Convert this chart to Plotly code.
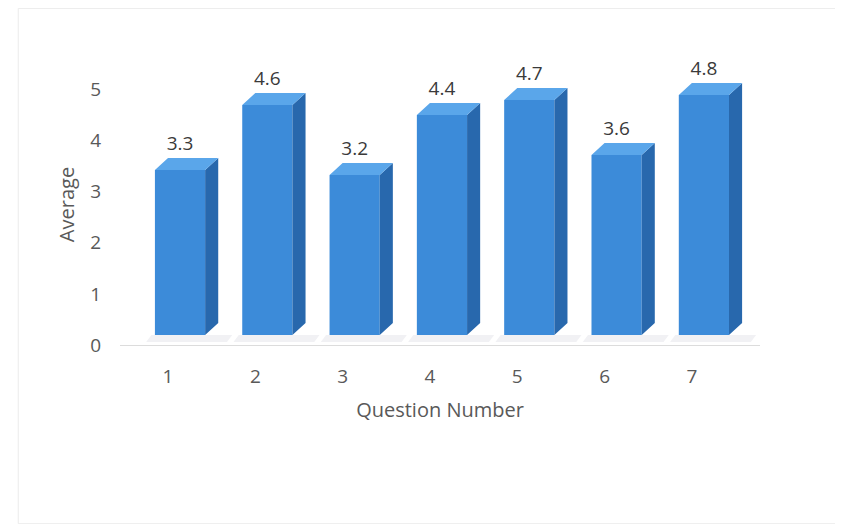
import plotly.graph_objects as go

questions = [1, 2, 3, 4, 5, 6, 7]
averages = [3.3, 4.6, 3.2, 4.4, 4.7, 3.6, 4.8]
value_labels = ["3.3", "4.6", "3.2", "4.4", "4.7", "3.6", "4.8"]

FRONT = "#3c8bd9"
SIDE = "#2868ad"
TOP = "#5aa6ea"
TXT = "#595959"
FONT = "Open Sans, sans-serif"

off = -0.15      # front face left edge relative to category (x units)
w = 0.575        # front face width (x units)
dx = 0.15        # depth shift in x units
dy = 0.24        # depth shift in y units

fig = go.Figure()

# anchor trace for the primary (labelled) y axis
fig.add_trace(go.Scatter(x=questions, y=averages, mode="markers", marker=dict(opacity=0),
                         hoverinfo="skip", showlegend=False))

# floor shadow
sx, sy = [], []
for q in questions:
    x0 = q + off - 0.1
    x1 = q + off + w + dx + 0.1
    sx += [x0, x1, x1 + 0.06, x0 + 0.06, x0, None]
    sy += [-0.14, -0.14, 0.0, 0.0, -0.14, None]
fig.add_trace(go.Scatter(x=sx, y=sy, mode="lines", fill="toself", fillcolor="rgba(200,200,210,0.25)",
                         line=dict(width=0), hoverinfo="skip", yaxis="y2", showlegend=False))

# front faces
fig.add_trace(go.Bar(x=questions, y=averages, offset=off, width=w, marker=dict(color=FRONT, line=dict(width=0)),
                     yaxis="y2", showlegend=False))

# side faces
px, py = [], []
for q, v in zip(questions, averages):
    xr = q + off + w
    px += [xr, xr + dx, xr + dx, xr, xr, None]
    py += [0, dy, v + dy, v, 0, None]
fig.add_trace(go.Scatter(x=px, y=py, mode="lines", fill="toself", fillcolor=SIDE,
                         line=dict(width=0, color=SIDE), hoverinfo="skip", yaxis="y2", showlegend=False))

# top faces
tx, ty = [], []
for q, v in zip(questions, averages):
    xl = q + off
    xr = q + off + w
    tx += [xl, xr, xr + dx, xl + dx, xl, None]
    ty += [v, v, v + dy, v + dy, v, None]
fig.add_trace(go.Scatter(x=tx, y=ty, mode="lines", fill="toself", fillcolor=TOP,
                         line=dict(width=0, color=TOP), hoverinfo="skip", yaxis="y2", showlegend=False))

# value labels
fig.add_trace(go.Scatter(x=[q + off + w / 2 for q in questions], y=[v + 0.5 for v in averages],
                         mode="text", text=value_labels, textposition="middle center", cliponaxis=False,
                         textfont=dict(family=FONT, size=19, color="#3a3a3a"),
                         yaxis="y2", hoverinfo="skip", showlegend=False))

# page is offset by the browser's 8px body margin, so the figure is 8px smaller
fig.update_layout(
    width=835, height=516,
    margin=dict(l=112, r=83, t=56, b=179),
    paper_bgcolor="white", plot_bgcolor="white",
    font=dict(family=FONT, color=TXT),
    xaxis=dict(range=[0.45, 7.78], tickmode="array", tickvals=questions, ticktext=[str(q) for q in questions],
               showgrid=False, zeroline=False, showline=True, linecolor="#dcdcdc", linewidth=1,
               ticks="outside", ticklen=14, tickcolor="rgba(0,0,0,0)",
               tickfont=dict(size=19, color=TXT),
               title=dict(text="Question Number", font=dict(size=20, color=TXT), standoff=15)),
    yaxis=dict(range=[0, 5.5], tickvals=[0, 1, 2, 3, 4, 5], showgrid=False, zeroline=False,
               ticks="outside", ticklen=14, tickcolor="rgba(0,0,0,0)",
               tickfont=dict(size=19, color=TXT),
               title=dict(text="Average", font=dict(size=20, color=TXT), standoff=10)),
    yaxis2=dict(range=[-0.2, 5.42], overlaying="y", visible=False),
    shapes=[dict(type="rect", xref="paper", yref="paper", x0=-0.159, x1=1.12, y0=-0.636, y1=1.198,
                 line=dict(color="#ebebeb", width=1))],
)

fig.write_html("out.html")
